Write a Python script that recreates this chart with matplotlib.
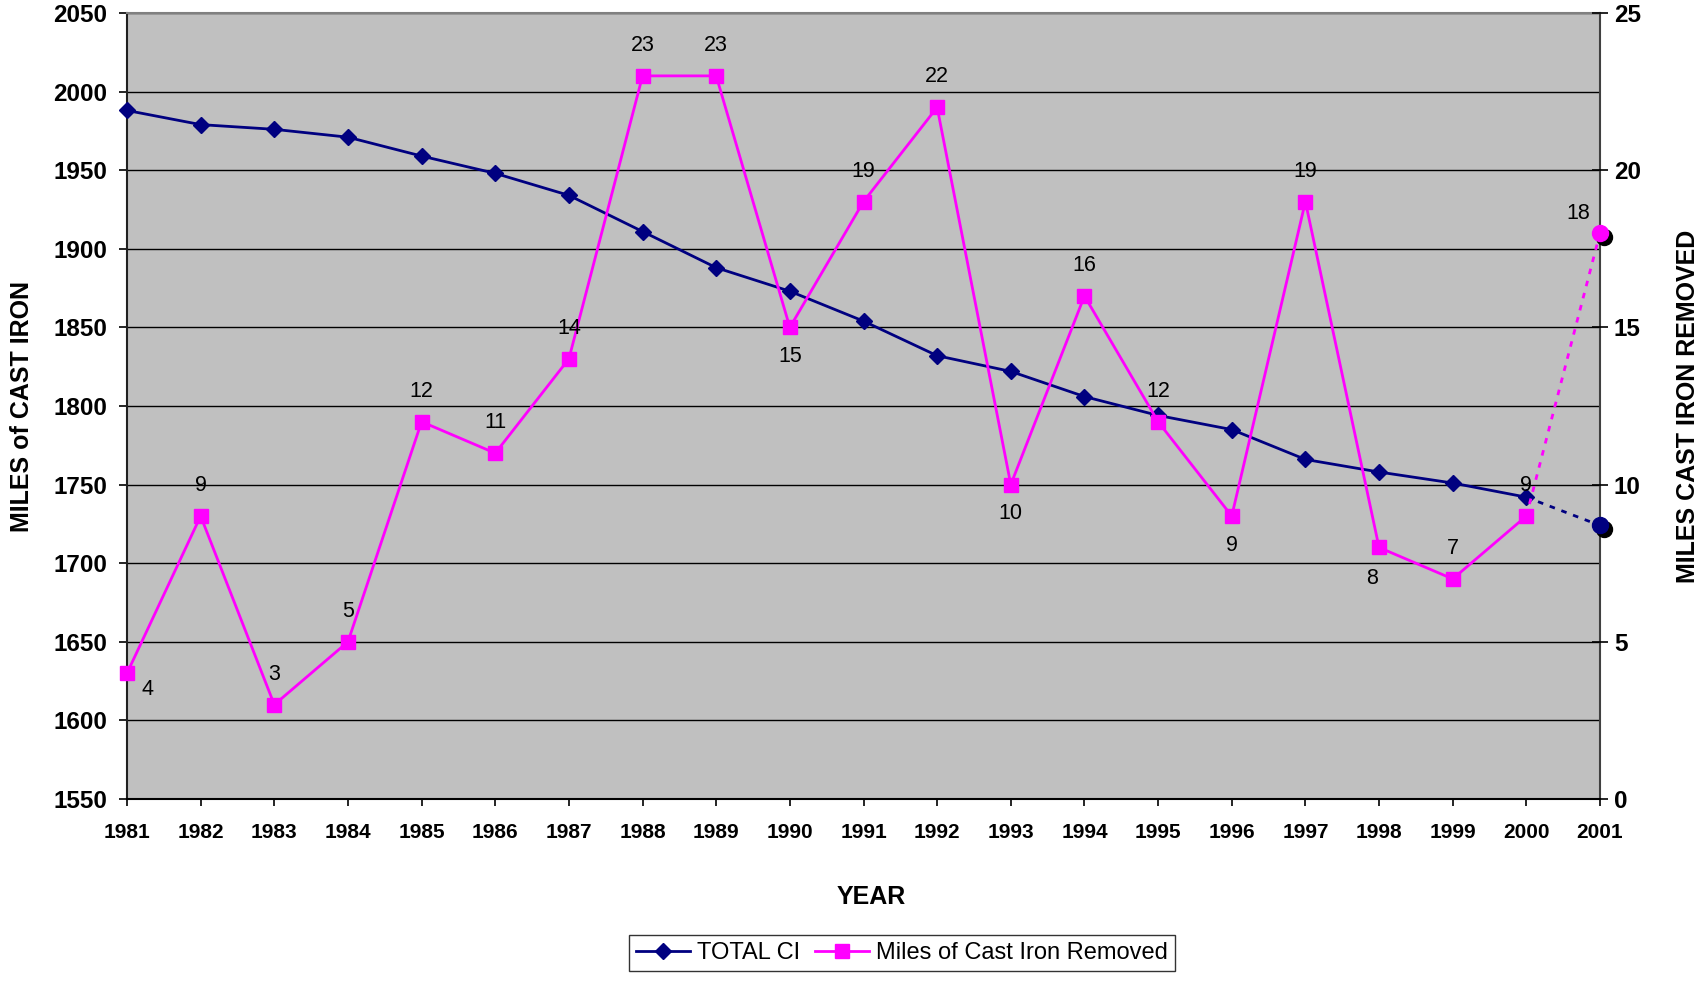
import numpy as np
import matplotlib.pyplot as plt
from matplotlib.transforms import offset_copy

plt.rcParams['font.family'] = ['Liberation Sans', 'DejaVu Sans']

# yearly totals and removals
years = [1981, 1982, 1983, 1984, 1985, 1986, 1987, 1988, 1989, 1990,
         1991, 1992, 1993, 1994, 1995, 1996, 1997, 1998, 1999, 2000]
total_ci = [1988, 1979, 1976, 1971, 1959, 1948, 1934, 1911, 1888, 1873,
            1854, 1832, 1822, 1806, 1794, 1785, 1766, 1758, 1751, 1742]
removed = [4, 9, 3, 5, 12, 11, 14, 23, 23, 15,
           19, 22, 10, 16, 12, 9, 19, 8, 7, 9]

# projected year
proj_year = 2001
proj_total = 1724
proj_removed = 18

NAVY = '#000080'
MAG = '#FF00FF'

fig = plt.figure(figsize=(17.06, 9.81), dpi=100)
ax = fig.add_axes([127 / 1706, 182 / 981, 1473 / 1706, 786 / 981])
ax.set_facecolor('#C0C0C0')

# total cast iron on the left axis
ax.plot(years, total_ci, color=NAVY, lw=2, marker='D', ms=8.3, zorder=3,
        label='TOTAL CI', clip_on=False)
ax.plot([years[-1], proj_year], [total_ci[-1], proj_total], color=NAVY,
        lw=2, ls=(0, (2, 2.5)), zorder=3)
shadow = offset_copy(ax.transData, fig=fig, x=4, y=-4, units='dots')
ax.plot([proj_year], [proj_total], 'o', color='black', ms=11.5,
        transform=shadow, zorder=3, clip_on=False)
ax.plot([proj_year], [proj_total], 'o', color=NAVY, ms=11.5, zorder=4,
        clip_on=False)

ax.set_xlim(1981, 2001)
ax.set_ylim(1550, 2050)
ax.set_yticks(np.arange(1550, 2051, 50))
ax.set_xticks(years + [proj_year])
ax.grid(axis='y', color='black', lw=1)
ax.set_axisbelow(True)
ax.tick_params(axis='y', direction='out', length=6, width=1.2, pad=8,
               labelsize=17.5)
ax.tick_params(axis='x', direction='out', length=5, width=1.2, pad=12,
               labelsize=15)
for lab in ax.get_xticklabels() + ax.get_yticklabels():
    lab.set_fontweight('bold')
ax.spines['top'].set_color('#808080')
ax.spines['right'].set_color('#404040')
ax.spines['left'].set_color('#202020')
for s in ax.spines.values():
    s.set_linewidth(1.5)

# removals on the right axis
ax2 = ax.twinx()
ax2.plot(years, removed, color=MAG, lw=2, marker='s', ms=10, zorder=3,
         label='Miles of Cast Iron Removed', clip_on=False)
ax2.plot([years[-1], proj_year], [removed[-1], proj_removed], color=MAG,
         lw=2, ls=(0, (2, 2.5)), zorder=3)
shadow2 = offset_copy(ax2.transData, fig=fig, x=4, y=-4, units='dots')
ax2.plot([proj_year], [proj_removed], 'o', color='black', ms=11.5,
         transform=shadow2, zorder=3, clip_on=False)
ax2.plot([proj_year], [proj_removed], 'o', color=MAG, ms=11.5, zorder=4,
         clip_on=False)
ax2.set_ylim(0, 25)
ax2.set_yticks(np.arange(0, 26, 5))
ax2.tick_params(axis='y', direction='inout', length=12, width=1.2, pad=4,
                labelsize=17.5)
for lab in ax2.get_yticklabels():
    lab.set_fontweight('bold')
for s in ax2.spines.values():
    s.set_visible(False)

# value labels
offsets = {0: (15, -12), 9: (0, -21), 12: (0, -21), 15: (0, -21),
           17: (-5, -22)}
for i, (x, v) in enumerate(zip(years, removed)):
    dx, dy = offsets.get(i, (0, 22))
    ax2.annotate(str(v), (x, v), xytext=(dx, dy), textcoords='offset points',
                 ha='center', va='center', fontsize=15.5)
ax2.annotate(str(proj_removed), (proj_year, proj_removed), xytext=(-16, 14),
             textcoords='offset points', ha='center', va='center',
             fontsize=15.5, annotation_clip=False)

ax.text(-0.0713, 0.5, 'MILES of CAST IRON', transform=ax.transAxes,
        rotation=90, ha='center', va='center', fontsize=18, fontweight='bold')
ax.text(1.0600, 0.5, 'MILES CAST IRON REMOVED', transform=ax.transAxes,
        rotation=90, ha='center', va='center', fontsize=18, fontweight='bold')
ax.text(0.505, -0.1247, 'YEAR', transform=ax.transAxes, ha='center',
        va='center', fontsize=18, fontweight='bold')

h1, l1 = ax.get_legend_handles_labels()
h2, l2 = ax2.get_legend_handles_labels()
leg = fig.legend(h1 + h2, l1 + l2, loc='center',
                 bbox_to_anchor=(902 / 1706, 1 - 953 / 981),
                 ncol=2, fontsize=17, frameon=True, fancybox=False,
                 handlelength=2.3, handletextpad=0.3, columnspacing=0.6,
                 borderpad=0.3, borderaxespad=0)
leg.get_frame().set_edgecolor('black')
leg.get_frame().set_linewidth(1)

fig.savefig('out.png', dpi=100)
